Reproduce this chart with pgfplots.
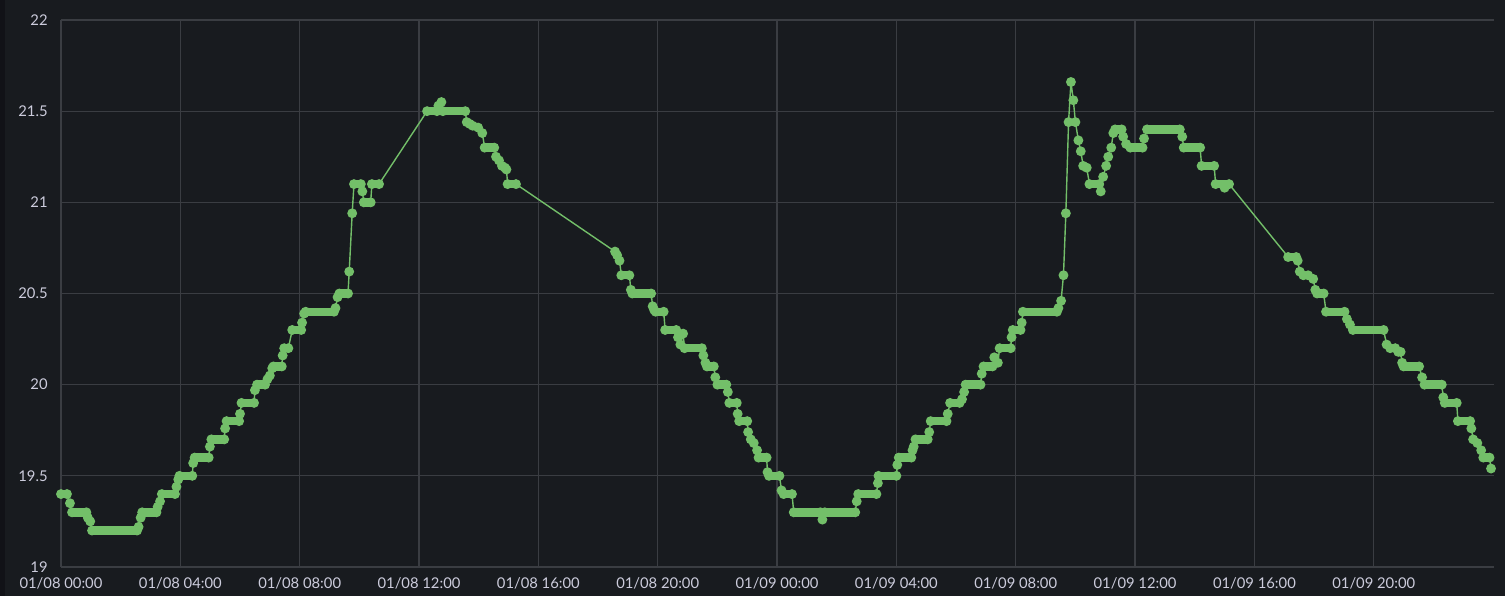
\documentclass[border=0pt]{standalone}
\usepackage{pgfplots}
\pgfplotsset{compat=1.18}
\usepackage{fontspec}
\setmainfont{Lato}

\definecolor{bg}{HTML}{181B1F}
\definecolor{paneledge}{HTML}{111217}
\definecolor{gridc}{HTML}{3A3D42}
\definecolor{txt}{HTML}{CCCCDC}
\definecolor{temp}{HTML}{73BF69}

\begin{document}
\begin{tikzpicture}
    % panel background, 0.5pt per pixel of the 1505x596 reference
    \fill[bg] (-30.5pt,-14.5pt) rectangle (722pt,283.5pt);
    \fill[paneledge] (-30.5pt,-14.5pt) rectangle (-28pt,283.5pt);
    \begin{axis}[
            at={(0,0)}, anchor=south west,
            scale only axis,
            width=716.5pt, height=273.5pt,
            xmin=0, xmax=48.03,
            ymin=19, ymax=22,
            clip=false,
            axis line style={draw=none},
            major tick length=0pt,
            grid=major,
            major grid style={color=gridc, line width=0.6pt},
            xtick={0,4,...,44},
            xticklabels={01/08 00:00,01/08 04:00,01/08 08:00,01/08 12:00,01/08 16:00,01/08 20:00,
                01/09 00:00,01/09 04:00,01/09 08:00,01/09 12:00,01/09 16:00,01/09 20:00},
            ytick={19,19.5,...,22},
            yticklabels={19,19.5,20,20.5,21,21.5,22},
            xticklabel style={anchor=north, inner sep=0pt, yshift=-5.3pt, text=txt,
                font=\fontsize{7.4}{9}\selectfont},
            yticklabel style={anchor=east, inner sep=0pt, xshift=-6.5pt, text=txt,
                font=\fontsize{7.4}{9}\selectfont},
            unbounded coords=jump,
        ]

        % plateaus: the runs of overlapping dots
        \addplot[temp, line width=4.2pt, line cap=round] coordinates {
            (0,19.4) (0.2,19.4) (nan,nan)
            (0.37,19.3) (0.85,19.3) (nan,nan)
            (1.04,19.2) (2.55,19.2) (nan,nan)
            (2.72,19.3) (3.2,19.3) (nan,nan)
            (3.38,19.4) (3.82,19.4) (nan,nan)
            (3.97,19.5) (4.4,19.5) (nan,nan)
            (4.48,19.6) (4.95,19.6) (nan,nan)
            (5.04,19.7) (5.47,19.7) (nan,nan)
            (5.55,19.8) (5.97,19.8) (nan,nan)
            (6.05,19.9) (6.47,19.9) (nan,nan)
            (6.57,20.0) (6.84,20.0) (nan,nan)
            (7.12,20.1) (7.4,20.1) (nan,nan)
            (7.48,20.2) (7.62,20.2) (nan,nan)
            (7.75,20.3) (8.05,20.3) (nan,nan)
            (8.2,20.4) (9.15,20.4) (nan,nan)
            (9.33,20.5) (9.62,20.5) (nan,nan)
            (9.82,21.1) (10.05,21.1) (nan,nan)
            (10.15,21.0) (10.38,21.0) (nan,nan)
            (10.42,21.1) (10.66,21.1) (nan,nan)
            (12.27,21.5) (12.6,21.5) (nan,nan)
            (12.8,21.5) (13.55,21.5) (nan,nan)
            (14.2,21.3) (14.52,21.3) (nan,nan)
            (14.97,21.1) (15.25,21.1) (nan,nan)
            (18.78,20.6) (19.05,20.6) (nan,nan)
            (19.15,20.5) (19.78,20.5) (nan,nan)
            (19.93,20.4) (20.2,20.4) (nan,nan)
            (20.25,20.3) (20.62,20.3) (nan,nan)
            (20.9,20.2) (21.48,20.2) (nan,nan)
            (21.65,20.1) (21.88,20.1) (nan,nan)
            (22.0,20.0) (22.3,20.0) (nan,nan)
            (22.4,19.9) (22.65,19.9) (nan,nan)
            (22.73,19.8) (23.0,19.8) (nan,nan)
            (23.38,19.6) (23.65,19.6) (nan,nan)
            (23.73,19.5) (24.08,19.5) (nan,nan)
            (24.22,19.4) (24.5,19.4) (nan,nan)
            (24.56,19.3) (25.45,19.3) (nan,nan)
            (25.6,19.3) (26.62,19.3) (nan,nan)
            (26.72,19.4) (27.33,19.4) (nan,nan)
            (27.4,19.5) (28.0,19.5) (nan,nan)
            (28.08,19.6) (28.5,19.6) (nan,nan)
            (28.64,19.7) (29.05,19.7) (nan,nan)
            (29.15,19.8) (29.68,19.8) (nan,nan)
            (29.8,19.9) (30.12,19.9) (nan,nan)
            (30.32,20.0) (30.82,20.0) (nan,nan)
            (30.92,20.1) (31.22,20.1) (nan,nan)
            (31.46,20.2) (31.83,20.2) (nan,nan)
            (31.9,20.3) (32.16,20.3) (nan,nan)
            (32.24,20.4) (33.38,20.4) (nan,nan)
            (34.47,21.1) (34.8,21.1) (nan,nan)
            (35.33,21.4) (35.55,21.4) (nan,nan)
            (35.84,21.3) (36.25,21.3) (nan,nan)
            (36.4,21.4) (37.5,21.4) (nan,nan)
            (37.63,21.3) (38.18,21.3) (nan,nan)
            (38.23,21.2) (38.65,21.2) (nan,nan)
            (38.7,21.1) (39.15,21.1) (nan,nan)
            (41.13,20.7) (41.4,20.7) (nan,nan)
            (42.1,20.5) (42.32,20.5) (nan,nan)
            (42.4,20.4) (43.02,20.4) (nan,nan)
            (43.3,20.3) (44.33,20.3) (nan,nan)
            (45.0,20.1) (45.52,20.1) (nan,nan)
            (45.7,20.0) (46.28,20.0) (nan,nan)
            (46.38,19.9) (46.78,19.9) (nan,nan)
            (46.82,19.8) (47.23,19.8) (nan,nan)
            (47.67,19.6) (47.88,19.6)
        };

        % every reading, joined by a thin line
        \addplot[temp, line width=0.7pt, mark=*, mark size=2.1pt,
            mark options={draw=none, fill=temp}] coordinates {
            (0,19.4) (0.2,19.4) (0.3,19.35) (0.37,19.3) (0.85,19.3)
            (0.9,19.27) (0.98,19.25) (1.04,19.2) (2.55,19.2) (2.6,19.22)
            (2.67,19.27) (2.72,19.3) (3.2,19.3) (3.24,19.33) (3.32,19.36)
            (3.38,19.4) (3.82,19.4) (3.87,19.44) (3.93,19.48) (3.97,19.5)
            (4.4,19.5) (4.43,19.57) (4.48,19.6) (4.95,19.6) (4.99,19.66)
            (5.04,19.7) (5.47,19.7) (5.5,19.76) (5.55,19.8) (5.97,19.8)
            (6.0,19.84) (6.05,19.9) (6.47,19.9) (6.5,19.97) (6.57,20.0)
            (6.84,20.0) (6.92,20.03) (7.0,20.05) (7.08,20.09) (7.12,20.1)
            (7.4,20.1) (7.43,20.16) (7.48,20.2) (7.62,20.2) (7.75,20.3)
            (8.05,20.3) (8.08,20.34) (8.15,20.39) (8.2,20.4) (9.15,20.4)
            (9.2,20.42) (9.27,20.48) (9.33,20.5) (9.62,20.5) (9.66,20.62)
            (9.76,20.94) (9.82,21.1) (10.05,21.1) (10.1,21.06) (10.15,21.0)
            (10.38,21.0) (10.42,21.1) (10.66,21.1) (12.27,21.5) (12.6,21.5)
            (12.65,21.53) (12.75,21.55) (12.8,21.5) (13.55,21.5) (13.6,21.44)
            (13.7,21.43) (13.8,21.42) (13.98,21.41) (14.12,21.38) (14.2,21.3)
            (14.52,21.3) (14.58,21.25) (14.68,21.23) (14.78,21.2) (14.88,21.19)
            (14.93,21.18) (14.97,21.1) (15.25,21.1) (18.57,20.73) (18.64,20.71)
            (18.72,20.68) (18.78,20.6) (19.05,20.6) (19.1,20.52) (19.15,20.5)
            (19.78,20.5) (19.83,20.43) (19.88,20.41) (19.93,20.4) (20.2,20.4)
            (20.25,20.3) (20.62,20.3) (20.68,20.26) (20.76,20.22) (20.85,20.28)
            (20.9,20.2) (21.48,20.2) (21.53,20.16) (21.6,20.12) (21.65,20.1)
            (21.88,20.1) (21.93,20.04) (22.0,20.0) (22.3,20.0) (22.35,19.96)
            (22.4,19.9) (22.65,19.9) (22.68,19.84) (22.73,19.8) (23.0,19.8)
            (23.03,19.74) (23.12,19.7) (23.22,19.68) (23.33,19.64) (23.38,19.6)
            (23.65,19.6) (23.68,19.52) (23.73,19.5) (24.08,19.5) (24.15,19.42)
            (24.22,19.4) (24.5,19.4) (24.56,19.3) (25.45,19.3) (25.52,19.26)
            (25.6,19.3) (26.62,19.3) (26.67,19.36) (26.72,19.4) (27.33,19.4)
            (27.38,19.46) (27.4,19.5) (28.0,19.5) (28.03,19.56) (28.08,19.6)
            (28.5,19.6) (28.54,19.64) (28.58,19.66) (28.64,19.7) (29.05,19.7)
            (29.1,19.74) (29.15,19.8) (29.68,19.8) (29.72,19.84) (29.8,19.9)
            (30.12,19.9) (30.2,19.92) (30.27,19.96) (30.32,20.0) (30.82,20.0)
            (30.86,20.06) (30.92,20.1) (31.22,20.1) (31.28,20.15) (31.4,20.12)
            (31.46,20.2) (31.83,20.2) (31.86,20.26) (31.9,20.3) (32.16,20.3)
            (32.2,20.34) (32.24,20.4) (33.38,20.4) (33.43,20.42) (33.52,20.46)
            (33.6,20.6) (33.68,20.94) (33.77,21.44) (33.85,21.66) (33.93,21.56)
            (34.0,21.44) (34.1,21.34) (34.18,21.28) (34.26,21.2) (34.38,21.19)
            (34.47,21.1) (34.8,21.1) (34.85,21.06) (34.93,21.14) (35.03,21.2)
            (35.1,21.25) (35.2,21.3) (35.27,21.38) (35.33,21.4) (35.55,21.4)
            (35.6,21.36) (35.7,21.32) (35.84,21.3) (36.25,21.3) (36.3,21.35)
            (36.4,21.4) (37.5,21.4) (37.58,21.36) (37.63,21.3) (38.18,21.3)
            (38.23,21.2) (38.65,21.2) (38.7,21.1) (39.0,21.08) (39.15,21.1)
            (41.13,20.7) (41.4,20.7) (41.45,20.68) (41.52,20.62) (41.64,20.6)
            (41.8,20.6) (41.97,20.58) (42.04,20.52) (42.1,20.5) (42.32,20.5)
            (42.4,20.4) (43.02,20.4) (43.1,20.36) (43.2,20.33) (43.3,20.3)
            (44.33,20.3) (44.43,20.22) (44.55,20.2) (44.72,20.2) (44.82,20.18)
            (44.9,20.18) (44.95,20.12) (45.0,20.1) (45.52,20.1) (45.62,20.04)
            (45.7,20.0) (46.28,20.0) (46.33,19.93) (46.38,19.9) (46.78,19.9)
            (46.82,19.8) (47.23,19.8) (47.27,19.76) (47.33,19.7) (47.47,19.68)
            (47.6,19.64) (47.67,19.6) (47.88,19.6) (47.93,19.54)
        };
    \end{axis}
\end{tikzpicture}
\end{document}
